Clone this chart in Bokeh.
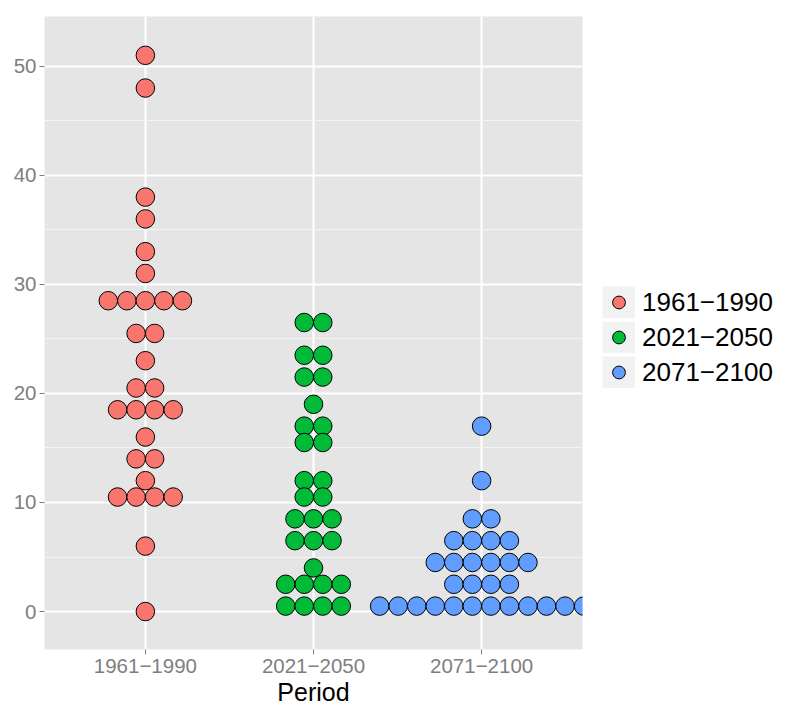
import numpy as np
from bokeh.plotting import figure
from bokeh.models import Range1d, FixedTicker, SingleIntervalTicker, Legend, LegendItem, ColumnDataSource
from bokeh.embed import file_html
from bokeh.resources import INLINE

# ---- data (bin centre and number of dots) ----
periods = ["1961\u22121990", "2021\u22122050", "2071\u22122100"]
colors = ["#F8766D", "#00BA38", "#619CFF"]

p1_bins = [51, 48, 38, 36, 33, 31, 28.5, 25.5, 23, 20.5, 18.5, 16, 14, 12, 10.5, 6, 0]
p1_counts = [1, 1, 1, 1, 1, 1, 5, 2, 1, 2, 4, 1, 2, 1, 4, 1, 1]

p2_bins = [26.5, 23.5, 21.5, 19, 17, 15.5, 12, 10.5, 8.5, 6.5, 4, 2.5, 0.5]
p2_counts = [2, 2, 2, 1, 2, 2, 2, 2, 3, 3, 1, 4, 4]

p3_bins = [17, 12, 8.5, 6.5, 4.5, 2.5, 0.5]
p3_counts = [1, 1, 2, 4, 6, 4, 12]

binwidth = 1.7

groups = [(p1_bins, p1_counts), (p2_bins, p2_counts), (p3_bins, p3_counts)]

# ---- layout ----
FW, FH = 538, 633
x0, x1 = 0.4, 3.6
y0, y1 = -3.48, 54.56

FONT = "Liberation Sans"

p = figure(frame_width=FW, frame_height=FH,
           x_range=Range1d(x0, x1), y_range=Range1d(y0, y1),
           output_backend="svg", toolbar_location=None,
           min_border_left=44, min_border_top=16, min_border_right=205, min_border_bottom=0,
           background_fill_color="#E5E5E5", border_fill_color="white",
           outline_line_color=None)

# stacking offset: one dot diameter (binwidth in y units) converted to x units
py = FH / (y1 - y0)
px = FW / (x1 - x0)
dx = binwidth * py / px

renderers = []
for gi, (bins, counts) in enumerate(groups):
    xs, ys = [], []
    for b, n in zip(bins, counts):
        for k in range(n):
            xs.append(gi + 1 + (k - (n - 1) / 2) * dx)
            ys.append(b)
    src = ColumnDataSource(dict(x=xs, y=ys))
    r = p.circle("x", "y", source=src, radius=binwidth / 2, radius_dimension="y",
                 fill_color=colors[gi], line_color="black", line_width=1)
    renderers.append(r)

# legend key background (drawn only in the legend)
bg = p.line(x=[np.nan], y=[np.nan], line_color="#F2F2F2", line_width=32, line_cap="butt")

items = [LegendItem(label=periods[i], renderers=[bg, renderers[i]]) for i in range(3)]
legend = Legend(items=items, location=(20, 261), orientation="vertical",
                glyph_width=33, glyph_height=32, spacing=3, padding=0, margin=0,
                label_standoff=7, label_text_font=FONT, label_text_font_size="26px",
                label_text_color="black", border_line_color=None,
                background_fill_alpha=0)
p.add_layout(legend, "right")

# axes
p.xaxis.ticker = FixedTicker(ticks=[1, 2, 3], minor_ticks=[])
p.xaxis.major_label_overrides = {i + 1: periods[i] for i in range(3)}
p.yaxis.ticker = SingleIntervalTicker(interval=10, num_minor_ticks=2)

for ax in (p.xaxis[0], p.yaxis[0]):
    ax.axis_line_color = None
    ax.major_tick_line_color = "#7F7F7F"
    ax.major_tick_line_width = 1
    ax.major_tick_in = 0
    ax.major_tick_out = 5
    ax.minor_tick_line_color = None
    ax.major_label_text_font = FONT
    ax.major_label_text_font_size = "20.5px"
    ax.major_label_text_color = "#7F7F7F"

p.yaxis.major_label_standoff = 3
p.xaxis.major_label_standoff = 4
p.xaxis.axis_label = "Period"
p.xaxis.axis_label_text_font = FONT
p.xaxis.axis_label_text_font_size = "25px"
p.xaxis.axis_label_text_font_style = "normal"
p.xaxis.axis_label_text_color = "black"
p.xaxis.axis_label_standoff = 2

p.xgrid.ticker = FixedTicker(ticks=[1, 2, 3], minor_ticks=[])
p.xgrid.grid_line_color = "white"
p.xgrid.grid_line_width = 2
p.ygrid.grid_line_color = "white"
p.ygrid.grid_line_width = 2
p.ygrid.minor_grid_line_color = "#F4F4F4"
p.ygrid.minor_grid_line_width = 1

open("out.html", "w").write(file_html(p, INLINE))
